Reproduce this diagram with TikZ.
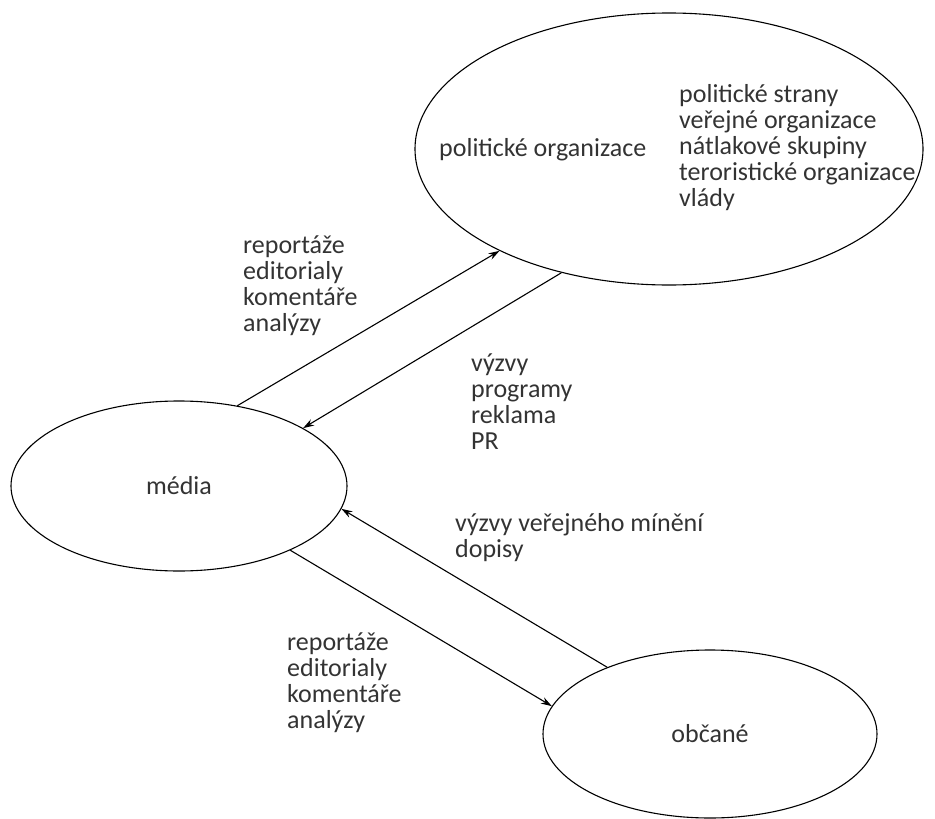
\documentclass[tikz,border=0pt]{standalone}
\usepackage{fontspec}
\setmainfont{Carlito}
\usepackage{tikz}
\usetikzlibrary{arrows.meta,positioning,shapes.geometric}

\begin{document}
\begin{tikzpicture}[
    x=1pt, y=-1pt,
    oval/.style={ellipse, draw=black, line width=1.1pt, inner sep=0pt},
    txt/.style={align=left, anchor=west, inner sep=0pt, text=black!80, font=\fontsize{26}{26}\selectfont},
    arr/.style={-{Stealth[length=11pt, width=7pt]}, line width=1.1pt}
]
\useasboundingbox (0,0) rectangle (935,819);

% ellipses
\node[oval, minimum width=508pt, minimum height=272pt] (org) at (669,149) {};
\node[oval, minimum width=336pt, minimum height=170pt, txt, anchor=center, align=center] (media) at (179,486) {média};
\node[oval, minimum width=334pt, minimum height=168pt, txt, anchor=center, align=center] (obc) at (710,734) {občané};

% texts
\node[txt, anchor=base west] (orgname) at (439,156) {politické organizace};
\node[txt] (orglist) at (679,148) {politické strany\\veřejné organizace\\nátlakové skupiny\\teroristické organizace\\vlády};
\node[txt] (toorg) at (243,286) {reportáže\\editorialy\\komentáře\\analýzy};
\node[txt] (fromorg) at (471,402) {výzvy\\programy\\reklama\\PR};
\node[txt] (fromobc) at (455,538) {výzvy veřejného mínění\\dopisy};
\node[txt] (toobc) at (287,683) {reportáže\\editorialy\\komentáře\\analýzy};

% arrows
\draw[arr] (media.54.6) -- (org.211.6);
\draw[arr] (org.229.2) -- (media.25.8);
\draw[arr] (obc.147.8) -- (media.-8.7);
\draw[arr] (media.-30.4) -- (obc.170.9);
\end{tikzpicture}
\end{document}
